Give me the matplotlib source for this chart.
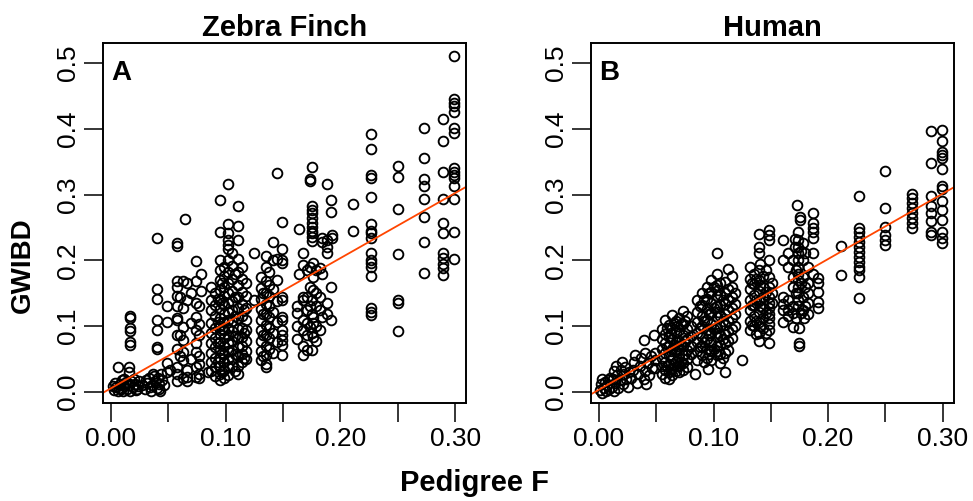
import matplotlib
matplotlib.use("Agg")
import matplotlib.pyplot as plt
from matplotlib.ticker import FixedLocator

plt.rcParams['font.family'] = ['Liberation Sans', 'DejaVu Sans']

# ---------------- data ----------------
panel_titles = ["Zebra Finch", "Human"]
panel_letters = ["A", "B"]
x_ticks = [0.00, 0.05, 0.10, 0.15, 0.20, 0.25, 0.30]
x_tick_labels = ["0.00", "", "0.10", "", "0.20", "", "0.30"]
y_ticks = [0.0, 0.1, 0.2, 0.3, 0.4, 0.5]
y_tick_labels = ["0.0", "0.1", "0.2", "0.3", "0.4", "0.5"]

# regression lines (intercept, slope)
zf_line = (0.0055, 0.99)
hu_line = (0.0035, 0.993)

# Zebra finch: (pedigree F, GWIBD)
zf_points = [
    (0.003, 0.003), (0.004, 0.014), (0.005, 0.008), (0.006, 0.002), (0.008, 0.012),
    (0.009, 0.005), (0.010, 0.018), (0.011, 0.001), (0.012, 0.009), (0.013, 0.015),
    (0.014, 0.004), (0.016, 0.010), (0.017, 0.002), (0.018, 0.017), (0.019, 0.007),
    (0.020, 0.020), (0.021, 0.012), (0.022, 0.003), (0.024, 0.009), (0.025, 0.016),
    (0.002, 0.009), (0.007, 0.006), (0.012, 0.020), (0.015, 0.013), (0.023, 0.005),
    (0.027, 0.011), (0.031, 0.018), (0.034, 0.007), (0.038, 0.024), (0.042, 0.004),
    (0.046, 0.010),
    (0.0066, 0.038), (0.0162, 0.038), (0.0162, 0.031),
    (0.0168, 0.116), (0.0168, 0.112), (0.0168, 0.097), (0.0168, 0.092), (0.0168, 0.076), (0.0168, 0.071),
    (0.030, 0.005), (0.032, 0.013), (0.033, 0.021), (0.035, 0.002), (0.036, 0.010),
    (0.037, 0.027), (0.039, 0.016), (0.040, 0.006), (0.041, 0.022), (0.042, 0.012),
    (0.043, 0.002), (0.044, 0.028), (0.045, 0.018),
    (0.0406, 0.234), (0.0406, 0.156), (0.0406, 0.141), (0.0406, 0.109), (0.0406, 0.094),
    (0.0406, 0.069), (0.0406, 0.065),
    (0.049, 0.130), (0.049, 0.107), (0.049, 0.044), (0.049, 0.031), (0.052, 0.033),
    (0.058, 0.226), (0.058, 0.222), (0.058, 0.168), (0.058, 0.160), (0.058, 0.146),
    (0.058, 0.130), (0.058, 0.112), (0.058, 0.109), (0.058, 0.087), (0.058, 0.066),
    (0.058, 0.038), (0.058, 0.028), (0.058, 0.016),
    (0.0604, 0.145), (0.0604, 0.087), (0.0604, 0.054),
    (0.0632, 0.168), (0.0632, 0.127), (0.0632, 0.099), (0.0632, 0.079), (0.0632, 0.061),
    (0.0632, 0.048), (0.0632, 0.021),
    (0.0647, 0.263),
    (0.0667, 0.165), (0.0667, 0.140), (0.0667, 0.033), (0.0667, 0.023), (0.0667, 0.016),
    (0.070, 0.150), (0.070, 0.105), (0.070, 0.050),
    (0.074, 0.199), (0.074, 0.168), (0.074, 0.135), (0.074, 0.114), (0.074, 0.094),
    (0.074, 0.074), (0.074, 0.061), (0.074, 0.038), (0.074, 0.023),
    (0.0765, 0.130), (0.0765, 0.104), (0.0765, 0.087), (0.0765, 0.054), (0.0765, 0.043),
    (0.0765, 0.028), (0.0765, 0.021),
    (0.0784, 0.180), (0.0784, 0.154), (0.085, 0.031),
    (0.087, 0.160), (0.087, 0.140), (0.087, 0.125), (0.087, 0.105), (0.087, 0.090),
    (0.087, 0.075), (0.087, 0.060), (0.087, 0.045), (0.087, 0.032),
    (0.091, 0.150), (0.091, 0.132), (0.091, 0.115), (0.091, 0.098), (0.091, 0.082),
    (0.091, 0.068), (0.091, 0.052), (0.091, 0.038), (0.091, 0.025),
    (0.093, 0.142), (0.093, 0.107), (0.093, 0.075), (0.093, 0.045),
    (0.0955, 0.292), (0.0955, 0.243), (0.0955, 0.200), (0.0955, 0.185), (0.0955, 0.170),
    (0.0955, 0.155), (0.0955, 0.140), (0.0955, 0.126), (0.0955, 0.112), (0.0955, 0.100),
    (0.0955, 0.088), (0.0955, 0.076), (0.0955, 0.064), (0.0955, 0.052), (0.0955, 0.040),
    (0.0955, 0.028), (0.0955, 0.018),
    (0.097, 0.165), (0.097, 0.135), (0.097, 0.095), (0.097, 0.060), (0.097, 0.030),
    (0.099, 0.190), (0.099, 0.176), (0.099, 0.160), (0.099, 0.146), (0.099, 0.132),
    (0.099, 0.118), (0.099, 0.106), (0.099, 0.094), (0.099, 0.082), (0.099, 0.070),
    (0.099, 0.058), (0.099, 0.046), (0.099, 0.034), (0.099, 0.022),
    (0.102, 0.316), (0.102, 0.256), (0.102, 0.241), (0.102, 0.231), (0.102, 0.223),
    (0.102, 0.218), (0.102, 0.200), (0.102, 0.182), (0.102, 0.166), (0.102, 0.150),
    (0.102, 0.136), (0.102, 0.122), (0.102, 0.110), (0.102, 0.098), (0.102, 0.086),
    (0.102, 0.074), (0.102, 0.062), (0.102, 0.050), (0.102, 0.038), (0.102, 0.026),
    (0.1054, 0.211), (0.1054, 0.192), (0.1054, 0.172), (0.1054, 0.154), (0.1054, 0.138),
    (0.1054, 0.124), (0.1054, 0.108), (0.1054, 0.092), (0.1054, 0.078), (0.1054, 0.064),
    (0.1054, 0.050), (0.1054, 0.040),
    (0.108, 0.180), (0.108, 0.145), (0.108, 0.115), (0.108, 0.085), (0.108, 0.058), (0.108, 0.032),
    (0.1106, 0.282), (0.1106, 0.253), (0.1106, 0.231), (0.1106, 0.202), (0.1106, 0.183),
    (0.1106, 0.163), (0.1106, 0.145), (0.1106, 0.128), (0.1106, 0.112), (0.1106, 0.096),
    (0.1106, 0.082), (0.1106, 0.068), (0.1106, 0.054), (0.1106, 0.040), (0.1106, 0.028),
    (0.114, 0.190), (0.114, 0.172), (0.114, 0.152), (0.114, 0.134), (0.114, 0.116),
    (0.114, 0.098), (0.114, 0.084), (0.114, 0.070), (0.114, 0.058), (0.114, 0.046),
    (0.116, 0.125), (0.116, 0.090), (0.116, 0.052),
    (0.118, 0.165), (0.118, 0.146), (0.118, 0.128), (0.118, 0.110), (0.118, 0.094),
    (0.118, 0.078), (0.118, 0.062), (0.118, 0.050),
    (0.125, 0.212), (0.125, 0.140),
    (0.131, 0.175), (0.131, 0.158), (0.131, 0.142), (0.131, 0.126), (0.131, 0.110),
    (0.131, 0.094), (0.131, 0.078), (0.131, 0.062), (0.131, 0.048),
    (0.133, 0.150), (0.133, 0.118), (0.133, 0.086), (0.133, 0.055),
    (0.135, 0.207), (0.135, 0.190), (0.135, 0.168), (0.135, 0.150), (0.135, 0.134),
    (0.135, 0.118), (0.135, 0.102), (0.135, 0.086), (0.135, 0.070), (0.135, 0.056),
    (0.135, 0.042), (0.135, 0.038),
    (0.138, 0.182), (0.138, 0.162), (0.138, 0.146), (0.138, 0.130), (0.138, 0.114),
    (0.138, 0.098), (0.138, 0.082), (0.138, 0.066),
    (0.1417, 0.228), (0.1417, 0.200), (0.1417, 0.156), (0.1417, 0.122), (0.1417, 0.090),
    (0.1417, 0.060),
    (0.1446, 0.333), (0.1446, 0.202), (0.1446, 0.170), (0.1446, 0.138), (0.1446, 0.106),
    (0.1446, 0.076),
    (0.149, 0.259), (0.149, 0.218), (0.149, 0.201), (0.149, 0.1955), (0.149, 0.145),
    (0.149, 0.140), (0.149, 0.114), (0.149, 0.109), (0.149, 0.094), (0.149, 0.087),
    (0.149, 0.079), (0.149, 0.071), (0.149, 0.056),
    (0.162, 0.130), (0.162, 0.120), (0.162, 0.100), (0.162, 0.080),
    (0.164, 0.248), (0.164, 0.179),
    (0.1678, 0.212), (0.1678, 0.193), (0.1678, 0.145), (0.1678, 0.140), (0.1678, 0.110),
    (0.1678, 0.094), (0.1678, 0.070), (0.1678, 0.056),
    (0.171, 0.185), (0.171, 0.145), (0.171, 0.125), (0.171, 0.105), (0.171, 0.086), (0.171, 0.064),
    (0.1736, 0.323), (0.1736, 0.320), (0.1736, 0.190), (0.1736, 0.160), (0.1736, 0.130), (0.1736, 0.099),
    (0.175, 0.3415), (0.175, 0.282), (0.175, 0.277), (0.175, 0.272), (0.175, 0.264),
    (0.175, 0.257), (0.175, 0.251), (0.175, 0.245), (0.175, 0.241), (0.175, 0.235),
    (0.175, 0.230), (0.175, 0.140), (0.175, 0.118), (0.175, 0.090), (0.175, 0.064),
    (0.1765, 0.1955), (0.1765, 0.175), (0.1765, 0.155), (0.1765, 0.114), (0.1765, 0.105), (0.1765, 0.084),
    (0.179, 0.185), (0.179, 0.150), (0.179, 0.130), (0.179, 0.100), (0.179, 0.078),
    (0.182, 0.188), (0.182, 0.145), (0.182, 0.125), (0.182, 0.094),
    (0.184, 0.234), (0.184, 0.228), (0.184, 0.180), (0.184, 0.114),
    (0.188, 0.316), (0.188, 0.231), (0.188, 0.221), (0.188, 0.211), (0.188, 0.135), (0.188, 0.118),
    (0.1916, 0.292), (0.1916, 0.274), (0.1916, 0.160), (0.1916, 0.110),
    (0.1925, 0.239), (0.1925, 0.234),
    (0.211, 0.285), (0.211, 0.245),
    (0.227, 0.392), (0.227, 0.370), (0.227, 0.330), (0.227, 0.325), (0.227, 0.297),
    (0.227, 0.256), (0.227, 0.245), (0.227, 0.241), (0.227, 0.234), (0.227, 0.212),
    (0.227, 0.2006), (0.227, 0.1955), (0.227, 0.190), (0.227, 0.176), (0.227, 0.127),
    (0.227, 0.122), (0.227, 0.117),
    (0.250, 0.344), (0.250, 0.326), (0.250, 0.278), (0.250, 0.209), (0.250, 0.140),
    (0.250, 0.135), (0.250, 0.0927),
    (0.273, 0.401), (0.273, 0.356), (0.273, 0.323), (0.273, 0.3135), (0.273, 0.294),
    (0.273, 0.266), (0.273, 0.228), (0.273, 0.181),
    (0.2897, 0.415), (0.2897, 0.381), (0.2897, 0.335), (0.2897, 0.293), (0.2897, 0.257),
    (0.2897, 0.242), (0.2897, 0.211), (0.2897, 0.203), (0.2897, 0.195), (0.2897, 0.188),
    (0.2897, 0.178),
    (0.2988, 0.511), (0.2988, 0.445), (0.2988, 0.439), (0.2988, 0.434), (0.2988, 0.426),
    (0.2988, 0.401), (0.2988, 0.393), (0.2988, 0.340), (0.2988, 0.335), (0.2988, 0.330),
    (0.2988, 0.325), (0.2988, 0.3135), (0.2988, 0.294), (0.2988, 0.243), (0.2988, 0.2017),
]

# Human: (pedigree F, GWIBD)
hu_points = [
    (0.001, 0.003), (0.002, 0.012), (0.003, 0.020), (0.003, -0.002), (0.004, 0.006),
    (0.005, 0.015), (0.006, 0.001), (0.007, 0.010), (0.008, 0.018),
    (0.009, 0.004), (0.010, 0.022), (0.013, 0.001),
    (0.011, 0.008), (0.012, 0.020), (0.013, 0.032), (0.014, 0.014), (0.015, 0.040),
    (0.016, 0.026), (0.017, 0.006), (0.018, 0.018), (0.019, 0.034), (0.020, 0.045),
    (0.021, 0.012), (0.022, 0.028), (0.023, 0.038), (0.024, 0.020), (0.025, 0.008),
    (0.026, 0.030),
    (0.028, 0.022), (0.030, 0.034), (0.031, 0.046), (0.0314, 0.056), (0.033, 0.014),
    (0.034, 0.028), (0.036, 0.040), (0.037, 0.052), (0.039, 0.020), (0.0396, 0.0797),
    (0.040, 0.060), (0.040, 0.032), (0.041, 0.012), (0.043, 0.044), (0.044, 0.026),
    (0.045, 0.054), (0.046, 0.036),
    (0.0483, 0.087), (0.0489, 0.059), (0.0489, 0.049), (0.0489, 0.036),
    (0.055, 0.095), (0.055, 0.080), (0.055, 0.066), (0.055, 0.052), (0.055, 0.040), (0.055, 0.028),
    (0.0576, 0.110), (0.0576, 0.088), (0.0576, 0.074), (0.0576, 0.060), (0.0576, 0.046),
    (0.0576, 0.034), (0.0576, 0.022),
    (0.059, 0.098), (0.059, 0.068), (0.059, 0.040),
    (0.061, 0.102), (0.061, 0.084), (0.061, 0.070), (0.061, 0.056), (0.061, 0.042),
    (0.061, 0.030), (0.061, 0.020),
    (0.0625, 0.090), (0.0625, 0.062), (0.0625, 0.035),
    (0.064, 0.1175), (0.064, 0.098), (0.064, 0.080), (0.064, 0.066), (0.064, 0.050),
    (0.064, 0.036), (0.064, 0.026),
    (0.0655, 0.105), (0.0655, 0.072), (0.0655, 0.042),
    (0.067, 0.108), (0.067, 0.090), (0.067, 0.076), (0.067, 0.062), (0.067, 0.046), (0.067, 0.032),
    (0.0685, 0.100), (0.0685, 0.070), (0.0685, 0.040),
    (0.070, 0.112), (0.070, 0.094), (0.070, 0.078), (0.070, 0.064), (0.070, 0.052),
    (0.070, 0.040), (0.070, 0.030),
    (0.072, 0.104), (0.072, 0.072), (0.072, 0.046),
    (0.0736, 0.1226), (0.0736, 0.104), (0.0736, 0.086), (0.0736, 0.070), (0.0736, 0.056),
    (0.0736, 0.044), (0.0736, 0.034),
    (0.0755, 0.108), (0.0755, 0.078), (0.0755, 0.058),
    (0.077, 0.115), (0.077, 0.096), (0.077, 0.080), (0.077, 0.064), (0.077, 0.050), (0.077, 0.038),
    (0.080, 0.100), (0.080, 0.085), (0.080, 0.070), (0.080, 0.058),
    (0.0838, 0.028),
    (0.086, 0.140), (0.086, 0.122), (0.086, 0.106), (0.086, 0.090), (0.086, 0.076),
    (0.086, 0.062), (0.086, 0.048),
    (0.088, 0.130), (0.088, 0.098), (0.088, 0.068),
    (0.090, 0.150), (0.090, 0.132), (0.090, 0.116), (0.090, 0.100), (0.090, 0.084),
    (0.090, 0.070), (0.090, 0.056),
    (0.092, 0.140), (0.092, 0.108), (0.092, 0.076), (0.092, 0.046),
    (0.094, 0.160), (0.094, 0.142), (0.094, 0.126), (0.094, 0.110), (0.094, 0.094),
    (0.094, 0.080), (0.094, 0.066), (0.094, 0.052), (0.0954, 0.0355),
    (0.096, 0.150), (0.096, 0.118), (0.096, 0.086), (0.096, 0.058),
    (0.098, 0.170), (0.098, 0.152), (0.098, 0.136), (0.098, 0.120), (0.098, 0.104),
    (0.098, 0.090), (0.098, 0.076), (0.098, 0.062), (0.098, 0.048),
    (0.100, 0.160), (0.100, 0.128), (0.100, 0.096), (0.100, 0.066),
    (0.1027, 0.2107), (0.1027, 0.180), (0.1027, 0.162), (0.1027, 0.146), (0.1027, 0.130),
    (0.1027, 0.114), (0.1027, 0.098), (0.1027, 0.084), (0.1027, 0.070), (0.1027, 0.056),
    (0.104, 0.155), (0.104, 0.122), (0.104, 0.090), (0.104, 0.062),
    (0.106, 0.165), (0.106, 0.148), (0.106, 0.132), (0.106, 0.116), (0.106, 0.100),
    (0.106, 0.086), (0.106, 0.072), (0.106, 0.058), (0.106, 0.044),
    (0.108, 0.140), (0.108, 0.108), (0.108, 0.080), (0.108, 0.052),
    (0.110, 0.167), (0.110, 0.150), (0.110, 0.134), (0.110, 0.118), (0.110, 0.102),
    (0.110, 0.088), (0.110, 0.074), (0.110, 0.060), (0.110, 0.030),
    (0.1129, 0.187), (0.1129, 0.156), (0.1129, 0.140), (0.1129, 0.124), (0.1129, 0.108),
    (0.1129, 0.092), (0.1129, 0.078), (0.1129, 0.064),
    (0.1158, 0.177), (0.1158, 0.160), (0.1158, 0.144), (0.1158, 0.128), (0.1158, 0.112),
    (0.1158, 0.096), (0.1158, 0.082),
    (0.119, 0.150), (0.119, 0.134), (0.119, 0.118), (0.119, 0.100),
    (0.1245, 0.048),
    (0.1318, 0.190), (0.1318, 0.172), (0.1318, 0.156), (0.1318, 0.140), (0.1318, 0.124),
    (0.1318, 0.108), (0.1318, 0.094),
    (0.1335, 0.165), (0.1335, 0.132), (0.1335, 0.102),
    (0.135, 0.180), (0.135, 0.164), (0.135, 0.148), (0.135, 0.132), (0.135, 0.116), (0.135, 0.100),
    (0.137, 0.172), (0.137, 0.140), (0.137, 0.108), (0.137, 0.088),
    (0.1394, 0.2396), (0.1394, 0.221), (0.1394, 0.211), (0.1394, 0.186), (0.1394, 0.170),
    (0.1394, 0.154), (0.1394, 0.138), (0.1394, 0.122), (0.1394, 0.106), (0.1394, 0.090),
    (0.1394, 0.077),
    (0.141, 0.195), (0.141, 0.162), (0.141, 0.130), (0.141, 0.100),
    (0.143, 0.176), (0.143, 0.160), (0.143, 0.144), (0.143, 0.128), (0.143, 0.112), (0.143, 0.098),
    (0.1455, 0.185), (0.1455, 0.152), (0.1455, 0.120), (0.1455, 0.090),
    (0.148, 0.246), (0.148, 0.2386), (0.148, 0.231), (0.148, 0.2006), (0.148, 0.175),
    (0.148, 0.160), (0.148, 0.145), (0.148, 0.135), (0.148, 0.127), (0.148, 0.119),
    (0.148, 0.112), (0.148, 0.104), (0.148, 0.094), (0.148, 0.074),
    (0.151, 0.165), (0.151, 0.150), (0.151, 0.135),
    (0.161, 0.231), (0.161, 0.200), (0.161, 0.145), (0.161, 0.134), (0.161, 0.125), (0.161, 0.107),
    (0.165, 0.2107), (0.165, 0.190), (0.165, 0.140), (0.165, 0.124), (0.165, 0.115),
    (0.1696, 0.2006), (0.1696, 0.175), (0.1696, 0.160), (0.1696, 0.130), (0.1696, 0.120),
    (0.1696, 0.099),
    (0.1712, 0.232), (0.1712, 0.221), (0.173, 0.2842),
    (0.172, 0.185), (0.172, 0.150), (0.172, 0.112),
    (0.174, 0.2437), (0.174, 0.231), (0.174, 0.221), (0.174, 0.2107), (0.174, 0.2006),
    (0.174, 0.190), (0.174, 0.180), (0.174, 0.170), (0.174, 0.160), (0.174, 0.150),
    (0.174, 0.140), (0.174, 0.130),
    (0.175, 0.097), (0.175, 0.074), (0.175, 0.070),
    (0.1754, 0.2664), (0.1754, 0.2614),
    (0.176, 0.215), (0.176, 0.165), (0.176, 0.120),
    (0.1783, 0.226), (0.1783, 0.2006), (0.1783, 0.175), (0.1783, 0.145), (0.1783, 0.125),
    (0.179, 0.112),
    (0.180, 0.212), (0.180, 0.160), (0.180, 0.130),
    (0.1827, 0.1905), (0.1827, 0.165), (0.1827, 0.150), (0.1827, 0.135), (0.1827, 0.119),
    (0.187, 0.2725), (0.187, 0.2563), (0.187, 0.2487), (0.187, 0.2437), (0.187, 0.2335),
    (0.187, 0.2107), (0.187, 0.180),
    (0.1908, 0.173), (0.1908, 0.165), (0.1908, 0.1524), (0.1908, 0.1372), (0.1908, 0.127),
    (0.2112, 0.222), (0.2112, 0.178),
    (0.2271, 0.2984), (0.2271, 0.2486), (0.2271, 0.2436), (0.2271, 0.236), (0.2271, 0.2284),
    (0.2271, 0.2208), (0.2271, 0.2133), (0.2271, 0.2057), (0.2271, 0.198), (0.2271, 0.1905),
    (0.2271, 0.1854), (0.2271, 0.1753), (0.2271, 0.143),
    (0.2496, 0.3364), (0.2496, 0.2792), (0.2496, 0.2513), (0.2496, 0.2386), (0.2496, 0.231),
    (0.2496, 0.2234),
    (0.2729, 0.301), (0.2729, 0.2944), (0.2729, 0.2868), (0.2729, 0.2792), (0.2729, 0.2716),
    (0.2729, 0.264), (0.2729, 0.2564), (0.2729, 0.250),
    (0.2894, 0.397), (0.2894, 0.348), (0.2894, 0.2974), (0.2894, 0.2822), (0.2894, 0.272),
    (0.2894, 0.2594), (0.2894, 0.2437), (0.2894, 0.2386),
    (0.299, 0.398), (0.299, 0.3815), (0.299, 0.3655), (0.299, 0.3605), (0.299, 0.355),
    (0.299, 0.339), (0.299, 0.3135), (0.299, 0.3085), (0.299, 0.2896), (0.299, 0.277),
    (0.299, 0.2614), (0.299, 0.243), (0.299, 0.2335), (0.299, 0.226),
]

# ---------------- figure ----------------
W, H = 973, 501
fig = plt.figure(figsize=(W / 100, H / 100), dpi=100)

ax_boxes = [
    (103 / W, (H - 403) / H, (466 - 103) / W, 360 / H),
    (590.7 / W, (H - 403) / H, (954 - 590.7) / W, 360 / H),
]
xlims = [(-0.0067, 0.3093), (-0.0072, 0.3099)]
ylim = (-0.0167, 0.5304)
datasets = [zf_points, hu_points]
lines = [zf_line, hu_line]

for i in range(2):
    ax = fig.add_axes(ax_boxes[i])
    F = [p[0] for p in datasets[i]]
    G = [p[1] for p in datasets[i]]
    ax.plot(F, G, linestyle='none', marker='o', markersize=7.0,
            markerfacecolor='none', markeredgecolor='black', markeredgewidth=1.35,
            clip_on=False)
    b, m = lines[i]
    ax.axline((0.0, b), slope=m, color='#FF4500', linewidth=1.3)
    ax.set_xlim(*xlims[i])
    ax.set_ylim(*ylim)
    ax.xaxis.set_major_locator(FixedLocator(x_ticks))
    ax.set_xticklabels(x_tick_labels)
    ax.yaxis.set_major_locator(FixedLocator(y_ticks))
    ax.set_yticklabels(y_tick_labels, rotation=90, va='center')
    ax.tick_params(axis='both', direction='out', length=13.5, width=1.1,
                   labelsize=19, color='black')
    ax.tick_params(axis='x', pad=4)
    ax.tick_params(axis='y', pad=3)
    for s in ax.spines.values():
        s.set_linewidth(1.4)
    ax.set_title(panel_titles[i], fontsize=21, fontweight='bold', pad=5)
    ax.text(0.024, 0.897, panel_letters[i], transform=ax.transAxes,
            fontsize=20, fontweight='bold', ha='left', va='baseline')

fig.text(475 / W, (H - 491) / H, "Pedigree F", fontsize=21, fontweight='bold',
         ha='center', va='baseline')
fig.text(23 / W, 236 / H, "GWIBD", fontsize=20, fontweight='bold',
         rotation=90, ha='center', va='center')

fig.savefig("out.png", dpi=100)
